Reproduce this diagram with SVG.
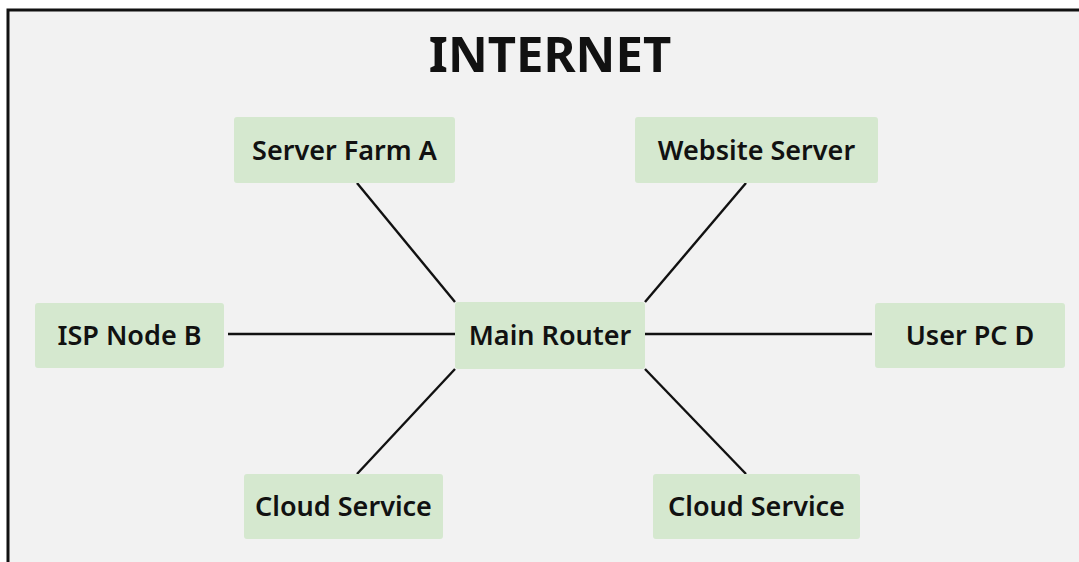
<svg xmlns="http://www.w3.org/2000/svg" width="1079" height="562" viewBox="0 0 1079 562">
  <style>
    .box { fill: #d5e8cf; }
    .lbl { font-family: "Noto Sans", "Open Sans", sans-serif; font-weight: 600; font-size: 27px; fill: #111; text-anchor: middle; }
    .title { font-family: "Noto Sans", "Open Sans", sans-serif; font-weight: 700; font-size: 49px; fill: #111; text-anchor: middle; }
    .edge { stroke: #111; stroke-width: 2.4; fill: none; }
  </style>
  <rect x="0" y="0" width="1079" height="562" fill="#ffffff"/>
  <rect x="9" y="10" width="1070" height="552" fill="#f2f2f2"/>
  <path d="M8 562 V10 H1079" stroke="#111" stroke-width="3" fill="none"/>
  <text class="title" x="550" y="72">INTERNET</text>
  <g id="connectors">
    <line class="edge" x1="357" y1="183" x2="455" y2="302"/>
    <line class="edge" x1="746" y1="183" x2="645" y2="302"/>
    <line class="edge" x1="228" y1="334" x2="455" y2="334"/>
    <line class="edge" x1="645" y1="334" x2="872" y2="334"/>
    <line class="edge" x1="357" y1="474" x2="455" y2="369"/>
    <line class="edge" x1="746" y1="474" x2="645" y2="369"/>
  </g>
  <g id="server-farm-a">
    <rect class="box" x="234" y="117" width="221" height="66" rx="3"/>
    <text class="lbl" x="344.5" y="160">Server Farm A</text>
  </g>
  <g id="website-server">
    <rect class="box" x="635" y="117" width="243" height="66" rx="3"/>
    <text class="lbl" x="756.5" y="160">Website Server</text>
  </g>
  <g id="isp-node-b">
    <rect class="box" x="35" y="303" width="189" height="65" rx="3"/>
    <text class="lbl" x="129.5" y="345">ISP Node B</text>
  </g>
  <g id="main-router">
    <rect class="box" x="455" y="302" width="190" height="67" rx="3"/>
    <text class="lbl" x="550" y="345">Main Router</text>
  </g>
  <g id="user-pc-d">
    <rect class="box" x="875" y="303" width="190" height="65" rx="3"/>
    <text class="lbl" x="970" y="345">User PC D</text>
  </g>
  <g id="cloud-service-1">
    <rect class="box" x="244" y="474" width="199" height="65" rx="3"/>
    <text class="lbl" x="343.5" y="516">Cloud Service</text>
  </g>
  <g id="cloud-service-2">
    <rect class="box" x="653" y="474" width="207" height="65" rx="3"/>
    <text class="lbl" x="756.5" y="516">Cloud Service</text>
  </g>
</svg>
